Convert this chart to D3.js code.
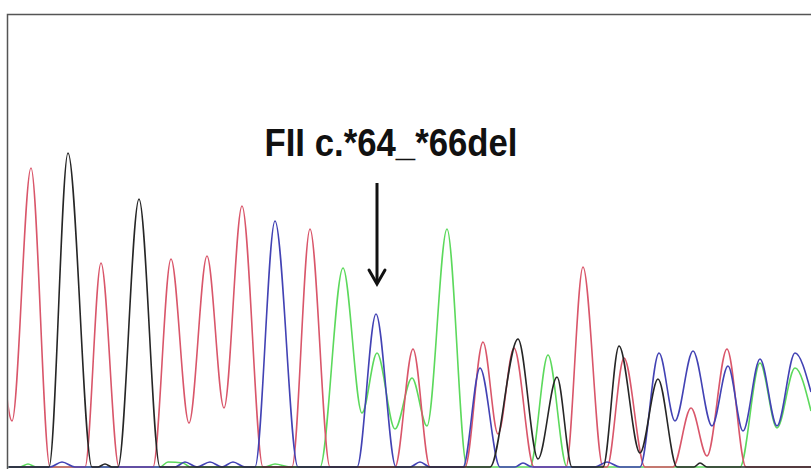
<!DOCTYPE html>
<html>
<head>
<meta charset="utf-8">
<script src="https://cdn.jsdelivr.net/npm/d3@7"></script>
<style>
  html, body { margin: 0; padding: 0; background: #fff; }
  svg { display: block; }
</style>
</head>
<body>
<div id="chart"></div>
<script>
// chromatogram traces: [scan position, signal] at feet, apexes and troughs
const redTrace = [
  [4, 95], [12, 46], [31, 299], [50, 0], [85, 0], [101, 204], [119, 0],
  [153, 0], [171, 208], [189, 44], [207, 211], [224, 59], [242, 261], [263, 0],
  [292, 0], [310, 238], [330, 0], [395, 0], [413, 118], [430, 0],
  [465, 0], [483, 125], [498, 33], [514, 119], [534, 0],
  [566, 0], [583, 200], [603, 0], [607, 0], [624, 109], [645, 0],
  [673, 0], [691, 59], [707, 11], [727, 118], [746, 0], [811, 0],
];
const blackTrace = [
  [4, 0], [49, 0], [68, 314], [92, 0], [98, 0], [105, 3], [112, 0], [118, 0],
  [139, 268], [160, 0], [490, 0], [518, 128], [538, 8], [557, 90], [572, 0],
  [603, 0], [619, 121], [640, 14], [658, 88], [677, 0], [694, 0], [700, 4],
  [707, 0], [811, 0],
];
const blueTrace = [
  [4, 0], [50, 0], [62, 5], [75, 0], [175, 0], [185, 5], [197, 0], [210, 5],
  [222, 0], [233, 5], [245, 0], [255, 0], [275, 246], [298, 0],
  [357, 0], [376, 153], [396, 0], [410, 0], [420, 5], [430, 0],
  [463, 0], [480, 99], [500, 0], [515, 0], [523, 4], [532, 0],
  [595, 0], [607, 5], [620, 0], [640, 0], [659, 114], [675, 46], [693, 116],
  [712, 41], [728, 101], [743, 36], [760, 108], [777, 41], [795, 114], [811, 75],
];
const greenTrace = [
  [4, 0], [20, 0], [28, 3], [36, 0], [160, 0], [168, 5], [183, 4], [190, 0],
  [265, 0], [275, 3], [290, 0], [320, 0], [343, 199], [362, 54], [377, 114],
  [395, 38], [412, 89], [427, 41], [447, 238], [467, 0], [530, 0], [548, 112],
  [567, 0], [740, 0], [760, 104], [777, 39], [795, 99], [811, 56],
];

const channels = [
  { name: 'G', trace: greenTrace, color: '#5cd95c' },
  { name: 'T', trace: redTrace, color: '#d9566a' },
  { name: 'C', trace: blueTrace, color: '#4242b4' },
  { name: 'A', trace: blackTrace, color: '#262626' },
];

const label = 'FII c.*64_*66del';
const markerScan = 377;

const width = 811;
const height = 469;
const frame = { left: 7.5, top: 14.5 };

const x = d3.scaleLinear().domain([0, 811]).range([0, 811]);
const y = d3.scaleLinear().domain([0, 320]).range([467, 147]);

const svg = d3
  .select('#chart')
  .append('svg')
  .attr('width', width)
  .attr('height', height)
  .attr('viewBox', [0, 0, width, height]);

svg
  .append('clipPath')
  .attr('id', 'plot-clip')
  .append('rect')
  .attr('x', frame.left + 1)
  .attr('y', frame.top + 1)
  .attr('width', width)
  .attr('height', height);

const line = d3
  .line()
  .x((d) => x(d[0]))
  .y((d) => y(d[1]))
  .curve(d3.curveMonotoneX);

svg
  .append('g')
  .attr('clip-path', 'url(#plot-clip)')
  .selectAll('path')
  .data(channels)
  .join('path')
  .attr('fill', 'none')
  .attr('stroke', (d) => d.color)
  .attr('stroke-width', 1.6)
  .attr('stroke-linejoin', 'round')
  .attr('d', (d) => line(d.trace));

// frame (top and left edges only are in view)
svg
  .append('path')
  .attr('fill', 'none')
  .attr('stroke', '#555')
  .attr('stroke-width', 1.5)
  .attr('d', `M${frame.left},${height}V${frame.top}H${width}`);

// annotation
const markerPeak = blueTrace.find((d) => d[0] === 376)[1];
const ax = x(markerScan);
const tipY = y(markerPeak + 30);
const topY = y(markerPeak + 131);

svg
  .append('line')
  .attr('x1', ax)
  .attr('x2', ax)
  .attr('y1', topY)
  .attr('y2', tipY - 1)
  .attr('stroke', '#111')
  .attr('stroke-width', 3);

svg
  .append('path')
  .attr('fill', 'none')
  .attr('stroke', '#111')
  .attr('stroke-width', 3)
  .attr('stroke-linecap', 'round')
  .attr('d', `M${ax - 8},${tipY - 14}L${ax},${tipY}L${ax + 8},${tipY - 14}`);

svg
  .append('text')
  .attr('x', 391)
  .attr('y', 156)
  .attr('text-anchor', 'middle')
  .attr('font-family', "'Liberation Sans', Arial, sans-serif")
  .attr('font-weight', 'bold')
  .attr('font-size', 38)
  .attr('textLength', 253)
  .attr('lengthAdjust', 'spacingAndGlyphs')
  .attr('fill', '#111')
  .text(label);
</script>
</body>
</html>
